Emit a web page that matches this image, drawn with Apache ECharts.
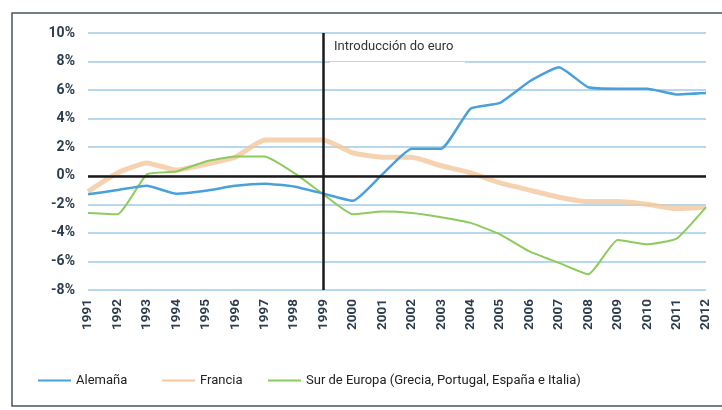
<!DOCTYPE html>
<html><head><meta charset="utf-8">
<script src="https://cdn.jsdelivr.net/npm/echarts@6/dist/echarts.min.js"></script>
<style>html,body{margin:0;padding:0;background:#fff}#c{width:722px;height:410px}</style>
</head><body><div id="c"></div>
<script>
const years = ['1991','1992','1993','1994','1995','1996','1997','1998','1999','2000','2001','2002','2003','2004','2005','2006','2007','2008','2009','2010','2011','2012'];
const alemana = [-1.3,-1.0,-0.7,-1.25,-1.05,-0.7,-0.55,-0.75,-1.25,-1.75,0.1,1.9,1.9,4.7,5.1,6.6,7.6,6.2,6.1,6.1,5.7,5.8];
const francia = [-1.1,0.2,0.9,0.4,0.8,1.3,2.5,2.5,2.5,1.6,1.3,1.3,0.7,0.2,-0.5,-1.0,-1.5,-1.8,-1.8,-2.0,-2.3,-2.2];
const sur = [-2.6,-2.7,0.1,0.3,1.0,1.35,1.35,0.2,-1.3,-2.7,-2.5,-2.6,-2.9,-3.3,-4.1,-5.3,-6.1,-6.9,-4.5,-4.8,-4.4,-2.2];
const yTicks = {min:-8, max:10, interval:2};
const annotation = 'Introducción do euro';
const euroYear = '1999';

const FONT = '"Liberation Sans Narrow", "Roboto", sans-serif';
const chart = echarts.init(document.getElementById('c'));
function legend(name, left){
  return {data:[name], left:left, top:374, padding:0, itemWidth:33, itemHeight:12, icon:'path://M0,5h33v2h-33z',
    textStyle:{fontFamily:FONT, fontSize:13, color:'#222'}, selectedMode:false};
}
chart.setOption({
  animation:false,
  graphic:[
    {type:'rect', shape:{x:12, y:13, width:720, height:393}, style:{fill:'none', stroke:'#4a5560', lineWidth:1.5}, z:0},
    {type:'rect', shape:{x:330, y:62, width:135, height:26}, style:{fill:'#fff'}, z:5},
    {type:'rect', shape:{x:333, y:35, width:134, height:26}, style:{fill:'#fff'}, z:6},
    {type:'text', left:334, top:40, style:{text:annotation, font:'13px '+FONT, fill:'#333'}, z:7}
  ],
  grid:{left:88, right:16, top:33, bottom:120},
  legend:[legend('Alemaña',38), legend('Francia',162), legend('Sur de Europa (Grecia, Portugal, España e Italia)',268)],
  xAxis:{type:'category', data:years, boundaryGap:false,
    axisLine:{show:false}, axisTick:{show:false},
    axisLabel:{rotate:90, margin:9, fontFamily:FONT, fontWeight:'bold', fontSize:13.5, color:'#2d3d4d', interval:0}},
  yAxis:{type:'value', min:yTicks.min, max:yTicks.max, interval:yTicks.interval,
    axisLine:{show:false}, axisTick:{show:false},
    axisLabel:{formatter:'{value}%', margin:13, fontFamily:FONT, fontWeight:'bold', fontSize:14, color:'#2d3d4d'},
    splitLine:{lineStyle:{color:'#9fcbe6', width:1.5}}},
  series:[
    {name:'Francia', type:'line', data:francia, symbol:'none', smooth:0.15,
      lineStyle:{color:'#f2c89c', width:5, opacity:0.8}, itemStyle:{color:'#f2c89c'}, z:2},
    {name:'Sur de Europa (Grecia, Portugal, España e Italia)', type:'line', data:sur, symbol:'none', smooth:0.15,
      lineStyle:{color:'#8ccb5c', width:2}, itemStyle:{color:'#8ccb5c'}, z:3},
    {name:'Alemaña', type:'line', data:alemana, symbol:'none', smooth:0.15,
      lineStyle:{color:'#4aa0da', width:2.5}, itemStyle:{color:'#4aa0da'}, z:4,
      markLine:{silent:true, symbol:'none', label:{show:false},
        lineStyle:{color:'#1a1a1a', width:2.5, type:'solid'},
        data:[{yAxis:0}, {xAxis:euroYear}]}}
  ]
});
</script></body></html>
